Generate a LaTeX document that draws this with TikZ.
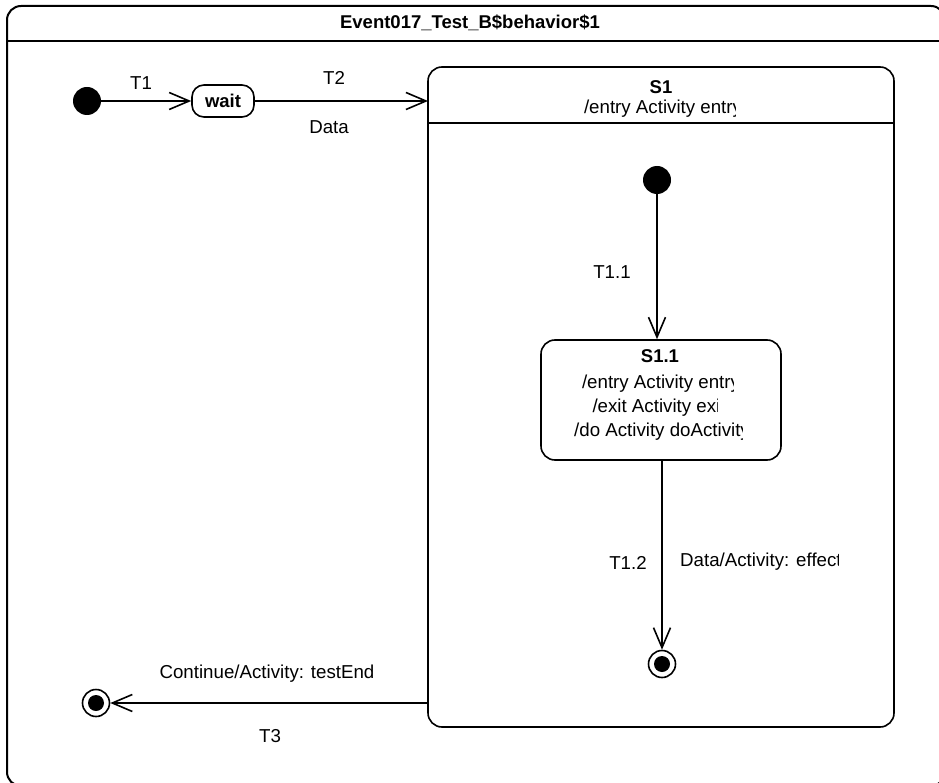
\documentclass[tikz,border=0pt]{standalone}
\usepackage{fontspec}
\setmainfont{Liberation Sans}
\usetikzlibrary{arrows.meta}
\tikzset{
  lbl/.style={inner sep=0pt, font=\fontsize{18.7}{22}\selectfont},
  blbl/.style={inner sep=0pt, font=\fontsize{18.5}{22}\selectfont\bfseries},
  conn/.style={line width=1.6pt, -{Straight Barb[length=20pt,width=17pt,line width=1.6pt]}},
  initst/.style={circle, fill=black, minimum size=28pt, inner sep=0pt},
  finalst/.style={circle, draw, line width=1.6pt, minimum size=27pt, inner sep=0pt,
     path picture={\fill[black] (path picture bounding box.center) circle (8pt);}},
  statebox/.style={draw, line width=1.6pt, rounded corners=14pt},
}
\begin{document}
\begin{tikzpicture}[x=1pt,y=-1pt]
\useasboundingbox (0,0) rectangle (939,783);
\clip (0,0) rectangle (939,783);
\fill[white] (0,0) rectangle (939,783);
% frame
\draw[line width=2pt, rounded corners=14pt] (7,6) rectangle (945,786);
\draw[line width=2pt] (7,41) -- (945,41);
\node[blbl] (title) at (470,23) {Event017\_Test\_B\$behavior\$1};

% outer initial and wait
\node[initst] (init) at (87,101) {};
\node[draw, line width=1.6pt, rounded corners=12pt, minimum width=62pt, minimum height=32pt, inner sep=0pt] (wait) at (223,101) {};
\node[blbl] (waittxt) at (223,101) {wait};
\draw[conn] (init) -- (wait);
\node[lbl] (t1) at (141,83) {T1};

% S1
\draw[statebox] (428,67) rectangle (894,727);
\coordinate (s1left) at (428,101);
\coordinate (s1leftbot) at (428,703);
\draw[line width=1.6pt] (428,123) -- (894,123);
\node[blbl] (s1title) at (661,87) {S1};
\begin{scope}
\clip (560,95) rectangle (735.5,122);
\node[lbl] (s1entry) at (663,109) {/entry Activity entry};
\end{scope}

\draw[conn] (wait.east) -- (s1left);
\node[lbl] (t2) at (334,78) {T2};
\node[lbl] (data) at (329,127) {Data};

% inner initial
\node[initst] (init2) at (657,180) {};

% S1.1
\node[statebox, draw, minimum width=240pt, minimum height=120pt, inner sep=0pt] (s11) at (661,400) {};
\node[blbl] (s11title) at (660,356) {S1.1};
\begin{scope}
\clip (560,372) rectangle (733.5,397);
\node[lbl] (s11entry) at (661,384) {/entry Activity entry};
\end{scope}
\begin{scope}
\clip (560,397) rectangle (717.5,421);
\node[lbl] (s11exit) at (659,408) {/exit Activity exit};
\end{scope}
\begin{scope}
\clip (560,421) rectangle (742,445);
\node[lbl] (s11do) at (662,432) {/do Activity doActivity};
\end{scope}

\draw[conn] (init2) -- (init2 |- s11.north);
\node[lbl] (t11) at (612,272) {T1.1};

% inner final
\node[finalst] (fin2) at (662,664) {};
\draw[conn] (s11.south -| fin2) -- (fin2.north);
\node[lbl] (t12) at (628,563) {T1.2};
\begin{scope}
\clip (670,545) rectangle (838,580);
\node[lbl, anchor=west] (eff) at (680,562) {Data/Activity: effect};
\end{scope}

% outer final
\node[finalst] (fin1) at (96,703) {};
\draw[conn] (s1leftbot) -- (fin1.east);
\node[lbl] (cont) at (267,674) {Continue/Activity: testEnd};
\node[lbl] (t3) at (270,736) {T3};
\end{tikzpicture}
\end{document}
